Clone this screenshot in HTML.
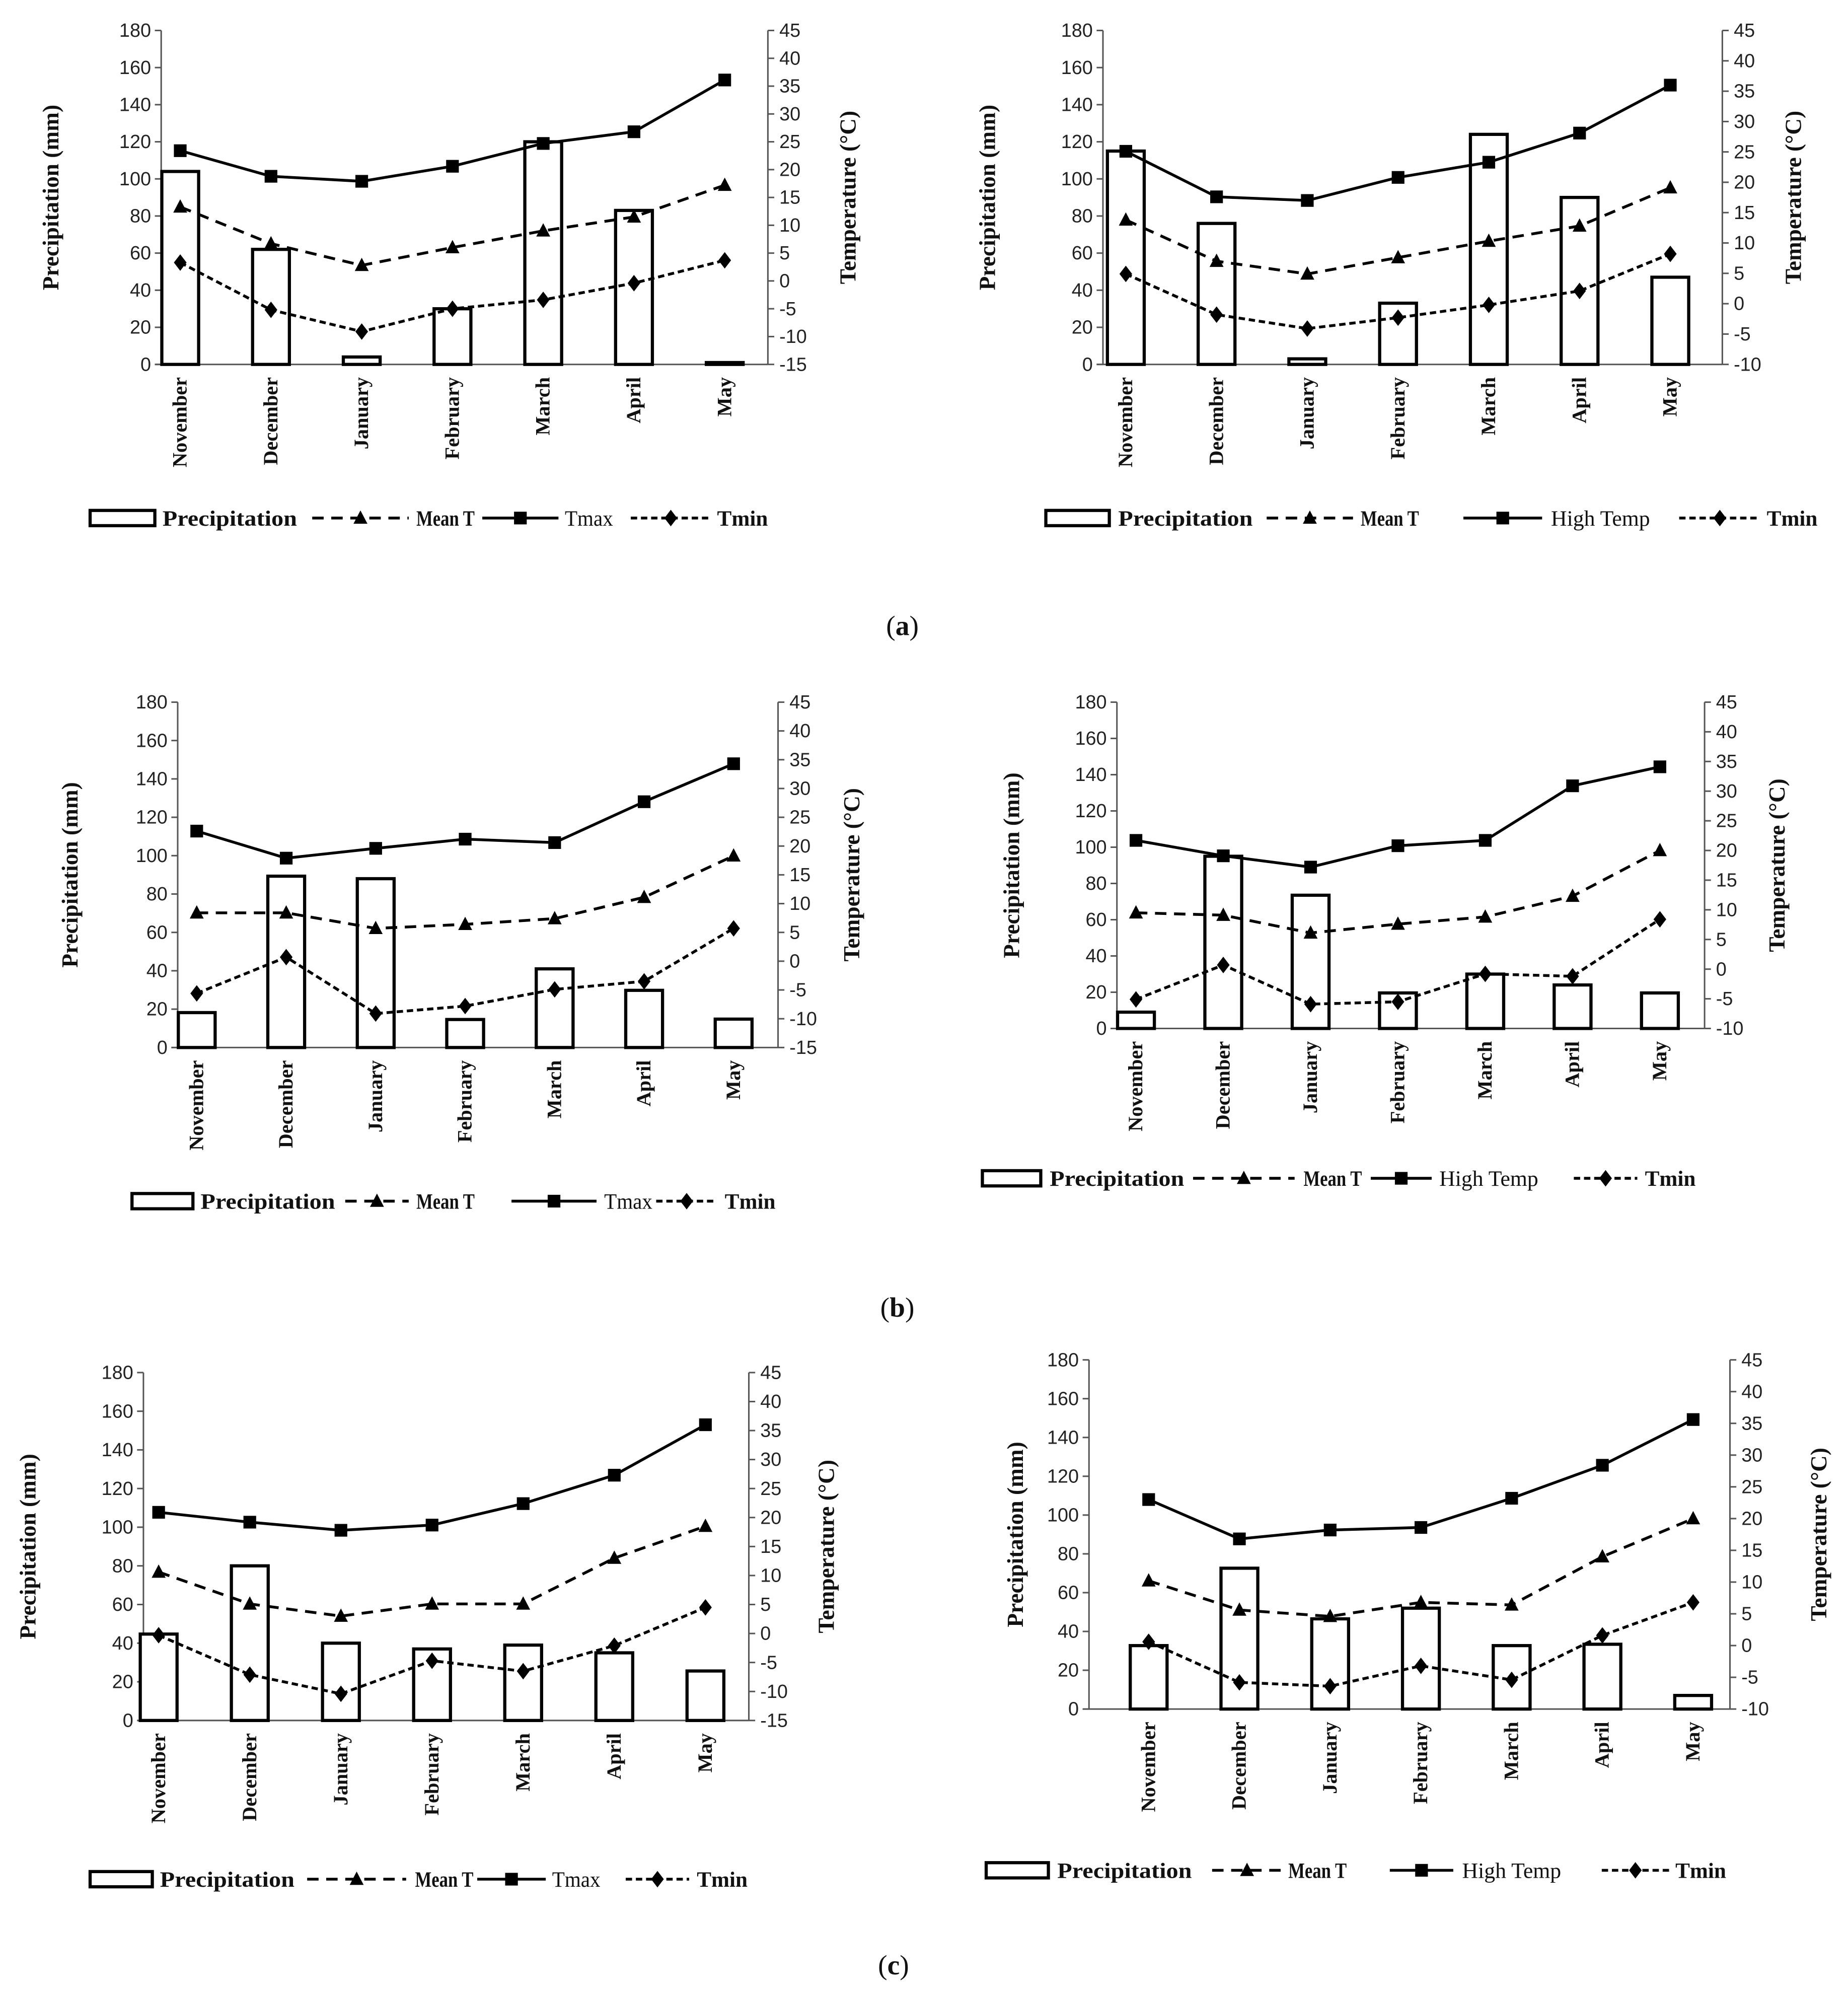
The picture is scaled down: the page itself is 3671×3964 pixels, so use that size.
<!DOCTYPE html>
<html><head><meta charset="utf-8">
<style>
html,body{margin:0;padding:0;background:#fff;}
svg{display:block;}
.tk{font-family:"Liberation Sans",sans-serif;font-size:15px;fill:#222;}
.mo{font-family:"Liberation Serif",serif;font-size:16px;font-weight:bold;fill:#111;}
.ti{font-family:"Liberation Serif",serif;font-size:18px;font-weight:bold;fill:#111;}
.lg{font-family:"Liberation Serif",serif;font-size:17px;fill:#111;}
.cap{font-family:"Liberation Serif",serif;font-size:22px;fill:#111;}
</style></head>
<body>
<svg id="fig" width="3671" height="3964" viewBox="0 0 1456 1572" preserveAspectRatio="none" xmlns="http://www.w3.org/2000/svg">
<text class="cap" x="711" y="500" text-anchor="middle">(<tspan font-weight="bold">a</tspan>)</text>
<text class="cap" x="707" y="1037" text-anchor="middle">(<tspan font-weight="bold">b</tspan>)</text>
<text class="cap" x="704" y="1555" text-anchor="middle">(<tspan font-weight="bold">c</tspan>)</text>
</svg>
<script>
const months = ["November","December","January","February","March","April","May"];
const precipTicks = [0,20,40,60,80,100,120,140,160,180];
const tempTicks15 = [-15,-10,-5,0,5,10,15,20,25,30,35,40,45];
const tempTicks10 = [-10,-5,0,5,10,15,20,25,30,35,40,45];

const aLeftPrecip = [104,62,4,30,120,83,1];
const aLeftTmax = [23.4,18.8,17.9,20.6,24.7,26.8,36.1];
const aLeftMean = [13.3,6.7,2.8,6,9,11.5,17.2];
const aLeftTmin = [3.3,-5.2,-9.1,-5,-3.4,-0.4,3.7];

const aRightPrecip = [115,76,3,33,124,90,47];
const aRightTmax = [25.1,17.6,17,20.8,23.3,28.1,36];
const aRightMean = [13.8,7,4.9,7.6,10.3,12.8,19.1];
const aRightTmin = [4.9,-1.8,-4.1,-2.3,-0.2,2.1,8.2];

const bLeftPrecip = [18.2,89.3,88,14.6,41,29.8,14.8];
const bLeftTmax = [22.6,17.9,19.6,21.2,20.6,27.7,34.3];
const bLeftMean = [8.4,8.4,5.7,6.4,7.4,11.1,18.3];
const bLeftTmin = [-5.6,0.7,-9.1,-7.8,-4.9,-3.5,5.7];

const bRightPrecip = [9,95,73.5,19.6,30,24,19.6];
const bRightTmax = [21.7,19.1,17.2,20.8,21.7,30.9,34.1];
const bRightMean = [9.5,9.1,6.1,7.6,8.8,12.3,20];
const bRightTmin = [-5.1,0.7,-5.9,-5.5,-0.8,-1.2,8.4];

const cLeftPrecip = [44.7,80,40,37,39,35,25.6];
const cLeftTmax = [20.9,19.2,17.8,18.7,22.4,27.3,36];
const cLeftMean = [10.6,5.1,3,5.1,5.1,13,18.5];
const cLeftTmin = [-0.3,-7.1,-10.4,-4.7,-6.5,-2.1,4.5];

const cRightPrecip = [32.7,72.6,46.5,52,32.7,33.4,7];
const cRightTmax = [23,16.8,18.2,18.6,23.2,28.4,35.6];
const cRightMean = [10.2,5.6,4.6,6.8,6.4,14,20];
const cRightTmin = [0.6,-5.8,-6.4,-3.2,-5.4,1.6,6.8];

const NS="http://www.w3.org/2000/svg";
const svg=document.getElementById('fig');
function mk(tag,attrs,parent){const e=document.createElementNS(NS,tag);for(const k in attrs)e.setAttribute(k,attrs[k]);(parent||svg).appendChild(e);return e;}
function marker(g,type,x,y){
  let m;
  if(type==='sq') m=mk('rect',{x:x-5,y:y-5,width:10,height:10,fill:'#000'},g);
  else if(type==='tri') m=mk('polygon',{points:`${x},${y-6} ${x+5.5},${y+4.5} ${x-5.5},${y+4.5}`,fill:'#000'},g);
  else m=mk('polygon',{points:`${x},${y-6.5} ${x+5},${y} ${x},${y+6.5} ${x-5},${y}`,fill:'#000'},g);
  return m;
}
function chart(c){
  const g=mk('g',{});
  
  
  const py=v=>c.y0-(v/180)*(c.y0-c.yTop);
  const ty=v=>c.y0-((v-c.tMin)/(45-c.tMin))*(c.y0-c.yTop);
  const cx=i=>c.x0+i*c.step;
  const la=mk('line',{x1:c.ax,y1:c.yTop,x2:c.ax,y2:c.y0,stroke:'#555','stroke-width':1.2},g);
  
  const ra=mk('line',{x1:c.rx,y1:c.yTop,x2:c.rx,y2:c.y0,stroke:'#555','stroke-width':1.2},g);
  
  const xa=mk('line',{x1:c.ax-5,y1:c.y0,x2:c.rx,y2:c.y0,stroke:'#555','stroke-width':1.2},g);
  
  precipTicks.forEach(v=>{
    mk('line',{x1:c.ax-5,y1:py(v),x2:c.ax,y2:py(v),stroke:'#555','stroke-width':1.2},g);
    const t=mk('text',{class:'tk',x:c.ax-8,y:py(v)+5,'text-anchor':'end'},g);t.textContent=v;
    
  });
  const tt=c.tMin===-15?tempTicks15:tempTicks10;
  tt.forEach(v=>{
    mk('line',{x1:c.rx,y1:ty(v),x2:c.rx+5,y2:ty(v),stroke:'#555','stroke-width':1.2},g);
    const t=mk('text',{class:'tk',x:c.rx+9,y:ty(v)+5,'text-anchor':'start'},g);t.textContent=v;
    
  });
  const mid=(c.y0+c.yTop)/2;
  const lt=mk('text',{class:'ti',x:0,y:0,'text-anchor':'middle',transform:`translate(${c.ltx},${mid}) rotate(-90)`},g);
  lt.textContent='Precipitation (mm)';
  
  const rt=mk('text',{class:'ti',x:0,y:0,'text-anchor':'middle',transform:`translate(${c.rtx},${mid}) rotate(-90)`},g);
  rt.textContent='Temperature (°C)';
  
  months.forEach((m,i)=>{
    const t=mk('text',{class:'mo','text-anchor':'end',transform:`translate(${cx(i)+5},${c.y0+10}) rotate(-90)`},g);
    t.textContent=m;
    
  });
  c.precip.forEach((v,i)=>{
    const b=mk('rect',{x:cx(i)-14.5,y:py(v),width:29,height:c.y0-py(v),fill:'#fff',stroke:'#000','stroke-width':2.5},g);
    
  });
  const series=[[c.tmax,'none','sq','tmax-line'],[c.mean,'9,6','tri','mean-t-line'],[c.tmin,'5,3','dia','tmin-line']];
  series.forEach(([arr,dash,mt,nm])=>{
    const pts=arr.map((v,i)=>cx(i)+','+ty(v)).join(' ');
    const l=mk('polyline',{points:pts,fill:'none',stroke:'#000','stroke-width':2.2,'stroke-dasharray':dash},g);
    
    arr.forEach((v,i)=>{
      const p=marker(g,mt,cx(i),ty(v));
      
    });
  });
  const L=c.leg, ly=c.ly;
  const lg=mk('g',{},g);
  
  const box=mk('rect',{x:L[0],y:ly-6,width:L[1]-L[0],height:12,fill:'#fff',stroke:'#000','stroke-width':2.5},lg);
  
  const t1=mk('text',{class:'lg',x:L[2],y:ly+6,'font-weight':'bold',textLength:106,lengthAdjust:'spacingAndGlyphs'},lg);t1.textContent='Precipitation';
  
  const hw=c.tmaxName==='Tmax'?38:78;
  const items=[[L[3],L[4],L[5],'9,6','tri','Mean T','bold',46],[L[6],L[7],L[8],'none','sq',c.tmaxName,'normal',hw],[L[9],L[10],L[11],'5,3','dia','Tmin','bold',40]];
  items.forEach(([a,b,tx,dash,mt,label,fw,w])=>{
    mk('line',{x1:a,y1:ly,x2:b,y2:ly,stroke:'#000','stroke-width':2.2,'stroke-dasharray':dash},lg);
    marker(lg,mt,(a+b)/2,ly);
    const t=mk('text',{class:'lg',x:tx,y:ly+6,'font-weight':fw,textLength:w,lengthAdjust:'spacingAndGlyphs'},lg);t.textContent=label;
    
  });
}
chart({name:'chart-a-left',ax:127,rx:605,y0:287,yTop:24,tMin:-15,x0:142,step:71.5,ltx:46,rtx:674,
  precip:aLeftPrecip,tmax:aLeftTmax,mean:aLeftMean,tmin:aLeftTmin,tmaxName:'Tmax',ly:408,
  leg:[71,122,128,246,322,328,380,440,445,497,560,565]});
chart({name:'chart-a-right',ax:869,rx:1357,y0:287,yTop:24,tMin:-10,x0:887,step:71.5,ltx:784,rtx:1419,
  precip:aRightPrecip,tmax:aRightTmax,mean:aRightMean,tmin:aRightTmin,tmaxName:'High Temp',ly:408,
  leg:[824,874,881,998,1066,1072,1153,1215,1222,1323,1387,1392]});
chart({name:'chart-b-left',ax:140,rx:613,y0:825,yTop:553,tMin:-15,x0:155,step:70.5,ltx:61,rtx:677,
  precip:bLeftPrecip,tmax:bLeftTmax,mean:bLeftMean,tmin:bLeftTmin,tmaxName:'Tmax',ly:946,
  leg:[104,152,158,272,322,328,403,470,476,517,565,571]});
chart({name:'chart-b-right',ax:880,rx:1343,y0:810,yTop:553,tMin:-10,x0:895,step:68.8,ltx:803,rtx:1406,
  precip:bRightPrecip,tmax:bRightTmax,mean:bRightMean,tmin:bRightTmin,tmaxName:'High Temp',ly:928,
  leg:[774,820,827,940,1020,1027,1080,1128,1134,1240,1290,1296]});
chart({name:'chart-c-left',ax:113,rx:590,y0:1355,yTop:1081,tMin:-15,x0:125,step:71.8,ltx:28,rtx:657,
  precip:cLeftPrecip,tmax:cLeftTmax,mean:cLeftMean,tmin:cLeftTmin,tmaxName:'Tmax',ly:1480,
  leg:[71,120,126,242,320,327,376,430,435,493,543,549]});
chart({name:'chart-c-right',ax:858,rx:1363,y0:1346,yTop:1071,tMin:-10,x0:905,step:71.5,ltx:806,rtx:1439,
  precip:cRightPrecip,tmax:cRightTmax,mean:cRightMean,tmin:cRightTmin,tmaxName:'High Temp',ly:1473,
  leg:[777,826,833,955,1010,1015,1095,1145,1152,1262,1315,1320]});
</script>
</body></html>
